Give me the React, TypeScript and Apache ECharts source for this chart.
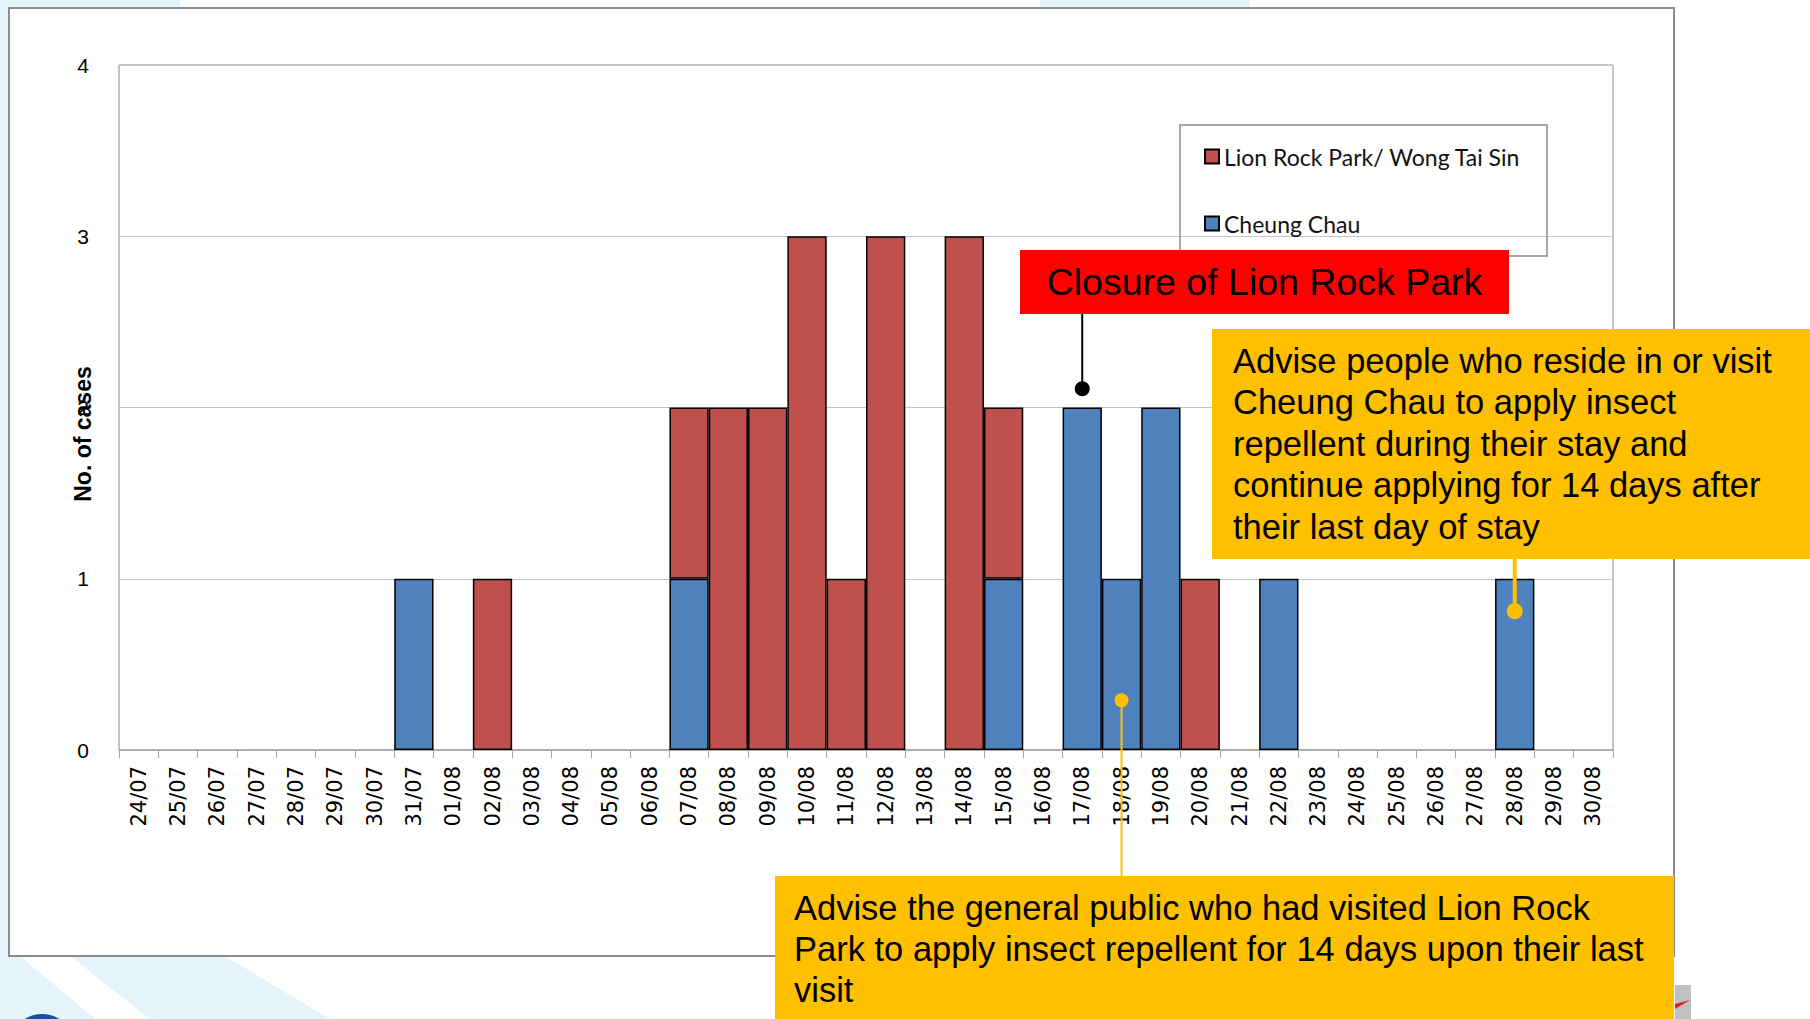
import React, { useEffect, useRef } from 'react';
import * as echarts from 'echarts';

const categories = [
  '24/07', '25/07', '26/07', '27/07', '28/07', '29/07', '30/07', '31/07',
  '01/08', '02/08', '03/08', '04/08', '05/08', '06/08', '07/08', '08/08',
  '09/08', '10/08', '11/08', '12/08', '13/08', '14/08', '15/08', '16/08',
  '17/08', '18/08', '19/08', '20/08', '21/08', '22/08', '23/08', '24/08',
  '25/08', '26/08', '27/08', '28/08', '29/08', '30/08',
];

const cheungChau = [
  0, 0, 0, 0, 0, 0, 0, 1, 0, 0,
  0, 0, 0, 0, 1, 0, 0, 0, 0, 0,
  0, 0, 1, 0, 2, 1, 2, 0, 0, 1,
  0, 0, 0, 0, 0, 1, 0, 0,
];

const lionRock = [
  0, 0, 0, 0, 0, 0, 0, 0, 0, 1,
  0, 0, 0, 0, 1, 2, 2, 3, 1, 3,
  0, 3, 1, 0, 0, 0, 0, 1, 0, 0,
  0, 0, 0, 0, 0, 0, 0, 0,
];

const seriesNames = ['Lion Rock Park/ Wong Tai Sin', 'Cheung Chau'];
const yMin = 0;
const yMax = 4;
const yInterval = 1;

const closureText = 'Closure of Lion Rock Park';
const cheungChauAdvice =
  'Advise people who reside in or visit\nCheung Chau to apply insect\nrepellent during their stay and\ncontinue applying for 14 days after\ntheir last day of stay';
const lionRockAdvice =
  'Advise the general public who had visited Lion Rock\nPark to apply insect repellent for 14 days upon their last\nvisit';

const closureAnchor = { date: '17/08', value: 2.11 };
const cheungChauAnchor = { date: '28/08', value: 0.81 };
const lionRockAnchor = { date: '18/08', value: 0.29 };

const RED = '#C0504D';
const BLUE = '#4F81BD';
const YELLOW = '#FFC000';
const LIGHT_BLUE = '#E5F4FB';

export default function App() {
  const ref = useRef<HTMLDivElement>(null);

  useEffect(() => {
    document.body.style.margin = '0';
    const chart = echarts.init(ref.current!, null, { renderer: 'svg' });
    const toData = (arr: number[]) => arr.map((v) => (v === 0 ? '-' : v));

    chart.setOption({
      animation: false,
      backgroundColor: '#ffffff',
      grid: {
        left: 119,
        right: 197,
        top: 65,
        bottom: 269,
        show: true,
        borderColor: '#8c8c8c',
        borderWidth: 1,
        backgroundColor: 'transparent',
      },
      legend: {
        data: seriesNames,
        orient: 'vertical',
        left: 1204,
        top: 145,
        padding: 0,
        itemGap: 44,
        itemWidth: 14,
        itemHeight: 14,
        icon: 'rect',
        textStyle: { fontFamily: 'Lato', fontSize: 23, color: '#111' },
      },
      xAxis: {
        type: 'category',
        data: categories,
        boundaryGap: true,
        axisLine: { show: true, lineStyle: { color: '#a6a6a6', width: 1.5 } },
        axisTick: { show: true, interval: 0, length: 8, lineStyle: { color: '#a6a6a6' } },
        axisLabel: {
          interval: 0,
          rotate: 90,
          margin: 16,
          fontFamily: 'DejaVu Sans',
          fontSize: 21,
          color: '#000',
        },
      },
      yAxis: {
        type: 'value',
        min: yMin,
        max: yMax,
        interval: yInterval,
        axisLine: { show: true, lineStyle: { color: '#bfbfbf' } },
        axisTick: { show: false },
        splitLine: { show: true, lineStyle: { color: '#c4c4c4', width: 1.2 } },
        axisLabel: {
          margin: 30,
          fontFamily: 'Liberation Sans',
          fontSize: 21,
          color: '#000',
        },
      },
      series: [
        {
          name: seriesNames[1],
          type: 'bar',
          stack: 'cases',
          barCategoryGap: '0%',
          data: toData(cheungChau),
          itemStyle: { color: BLUE, borderColor: '#000', borderWidth: 1.5 },
        },
        {
          name: seriesNames[0],
          type: 'bar',
          stack: 'cases',
          barCategoryGap: '0%',
          data: toData(lionRock),
          itemStyle: { color: RED, borderColor: '#000', borderWidth: 1.5 },
        },
      ],
    });

    const px = (a: { date: string; value: number }) =>
      chart.convertToPixel({ xAxisIndex: 0, yAxisIndex: 0 }, [a.date, a.value]) as number[];
    const pc = px(closureAnchor);
    const pcc = px(cheungChauAnchor);
    const plr = px(lionRockAnchor);

    const redBox = { x: 1020, y: 250, w: 489, h: 64 };
    const rightBox = { x: 1212, y: 329, w: 598, h: 230 };
    const bottomBox = { x: 775, y: 876, w: 899, h: 143 };

    chart.setOption({
      graphic: [
        // background decorations
        { type: 'rect', z: -100, shape: { x: 0, y: 0, width: 9, height: 1019 }, style: { fill: LIGHT_BLUE } },
        { type: 'rect', z: -100, shape: { x: 0, y: 0, width: 180, height: 8 }, style: { fill: LIGHT_BLUE } },
        { type: 'rect', z: -100, shape: { x: 1040, y: 0, width: 210, height: 7 }, style: { fill: LIGHT_BLUE } },
        {
          type: 'polygon',
          z: -100,
          shape: { points: [[0, 956], [225, 956], [330, 1019], [0, 1019]] },
          style: { fill: LIGHT_BLUE },
        },
        {
          type: 'polygon',
          z: -99,
          shape: { points: [[20, 956], [70, 956], [150, 1019], [95, 1019]] },
          style: { fill: '#ffffff' },
        },
        { type: 'circle', z: -98, shape: { cx: 42, cy: 1046, r: 32 }, style: { fill: '#1D4E9B' } },
        { type: 'rect', z: -98, shape: { x: 1675, y: 985, width: 16, height: 34 }, style: { fill: '#c0c0c0' } },
        {
          type: 'polygon',
          z: -97,
          shape: { points: [[1675, 1004], [1690, 1000], [1675, 1009]] },
          style: { fill: '#e02020' },
        },
        // slide frame
        {
          type: 'rect',
          z: -90,
          shape: { x: 9, y: 8, width: 1665, height: 948 },
          style: { fill: '#ffffff', stroke: '#8c8c8c', lineWidth: 2 },
        },
        // legend box
        {
          type: 'rect',
          z: 5,
          shape: { x: 1180, y: 125, width: 367, height: 131 },
          style: { fill: 'transparent', stroke: '#8c8c8c', lineWidth: 1.5 },
        },
        // y-axis name
        {
          type: 'text',
          z: 5,
          x: 83,
          y: 434,
          rotation: Math.PI / 2,
          style: {
            text: 'No. of cases',
            fill: '#000',
            fontFamily: 'Liberation Sans',
            fontWeight: 'bold',
            fontSize: 23,
            textAlign: 'center',
            textVerticalAlign: 'middle',
          },
        },
        // closure annotation
        {
          type: 'line',
          z: 50,
          shape: { x1: pc[0], y1: redBox.y + redBox.h, x2: pc[0], y2: pc[1] },
          style: { stroke: '#000', lineWidth: 2 },
        },
        { type: 'circle', z: 51, shape: { cx: pc[0], cy: pc[1], r: 7.5 }, style: { fill: '#000' } },
        {
          type: 'rect',
          z: 52,
          shape: { x: redBox.x, y: redBox.y, width: redBox.w, height: redBox.h },
          style: { fill: '#FF0000' },
        },
        {
          type: 'text',
          z: 53,
          x: redBox.x + redBox.w / 2,
          y: redBox.y + redBox.h / 2,
          style: {
            text: closureText,
            fill: '#000',
            fontFamily: 'Liberation Sans',
            fontSize: 37.5,
            textAlign: 'center',
            textVerticalAlign: 'middle',
          },
        },
        // Cheung Chau advice
        {
          type: 'line',
          z: 50,
          shape: { x1: pcc[0], y1: rightBox.y + rightBox.h, x2: pcc[0], y2: pcc[1] },
          style: { stroke: YELLOW, lineWidth: 4 },
        },
        { type: 'circle', z: 51, shape: { cx: pcc[0], cy: pcc[1], r: 8 }, style: { fill: YELLOW } },
        {
          type: 'rect',
          z: 52,
          shape: { x: rightBox.x, y: rightBox.y, width: rightBox.w, height: rightBox.h },
          style: { fill: YELLOW },
        },
        {
          type: 'text',
          z: 53,
          x: 1233,
          y: 340,
          style: {
            text: cheungChauAdvice,
            fill: '#000',
            fontFamily: 'Liberation Sans',
            fontSize: 34.5,
            lineHeight: 41.5,
            textAlign: 'left',
            textVerticalAlign: 'top',
          },
        },
        // Lion Rock advice
        {
          type: 'line',
          z: 50,
          shape: { x1: plr[0], y1: bottomBox.y, x2: plr[0], y2: plr[1] },
          style: { stroke: YELLOW, lineWidth: 2 },
        },
        { type: 'circle', z: 51, shape: { cx: plr[0], cy: plr[1], r: 7 }, style: { fill: YELLOW } },
        {
          type: 'rect',
          z: 52,
          shape: { x: bottomBox.x, y: bottomBox.y, width: bottomBox.w, height: bottomBox.h },
          style: { fill: YELLOW },
        },
        {
          type: 'text',
          z: 53,
          x: 794,
          y: 887,
          style: {
            text: lionRockAdvice,
            fill: '#000',
            fontFamily: 'Liberation Sans',
            fontSize: 34.5,
            lineHeight: 41,
            textAlign: 'left',
            textVerticalAlign: 'top',
          },
        },
      ],
    });

    return () => chart.dispose();
  }, []);

  return <div ref={ref} style={{ width: 1810, height: 1019 }} />;
}
